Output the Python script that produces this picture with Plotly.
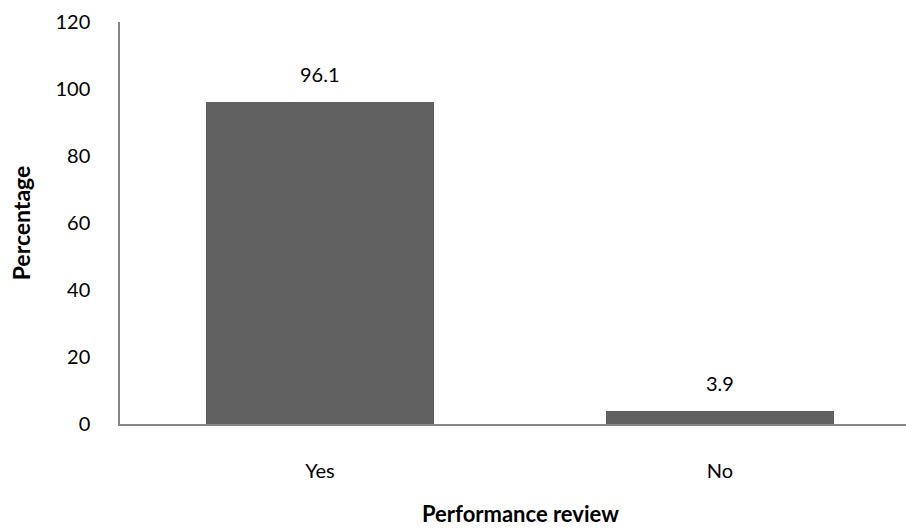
import plotly.graph_objects as go

categories = ["Yes", "No"]
percentages = [96.1, 3.9]
y_ticks = [0, 20, 40, 60, 80, 100, 120]

FONT = "Lato, Carlito, Calibri, sans-serif"

fig = go.Figure(
    go.Bar(
        x=categories,
        y=percentages,
        width=0.57,
        marker=dict(color="#606060", line=dict(width=0)),
    )
)

# value labels above each bar
for cat, val in zip(categories, percentages):
    fig.add_annotation(
        x=cat,
        y=val,
        text=f"{val:.1f}",
        showarrow=False,
        yanchor="bottom",
        yshift=14,
        font=dict(family=FONT, size=20, color="#000000"),
    )

# x-axis title, placed below the category labels
fig.add_annotation(
    xref="paper",
    yref="paper",
    x=0.51,
    y=0,
    yshift=-89,
    yanchor="middle",
    text="<b>Performance review</b>",
    showarrow=False,
    font=dict(family=FONT, size=22, color="#000000"),
)

fig.update_layout(
    width=906,
    height=528,
    margin=dict(l=120, r=0, t=22, b=104),
    paper_bgcolor="white",
    plot_bgcolor="white",
    showlegend=False,
    font=dict(family=FONT, size=20, color="#000000"),
    xaxis=dict(
        range=[-0.5, 1.465],
        showline=True,
        linecolor="#868686",
        linewidth=1.5,
        showgrid=False,
        ticks="",
        ticklabelstandoff=28,
    ),
    yaxis=dict(
        range=[0, 120],
        tickvals=y_ticks,
        showline=True,
        linecolor="#868686",
        linewidth=1.5,
        showgrid=False,
        zeroline=False,
        ticks="",
        ticklabelstandoff=24,
        title=dict(
            text="<b>Percentage</b>",
            font=dict(family=FONT, size=23),
            standoff=18,
        ),
    ),
)

fig.write_html("out.html")
